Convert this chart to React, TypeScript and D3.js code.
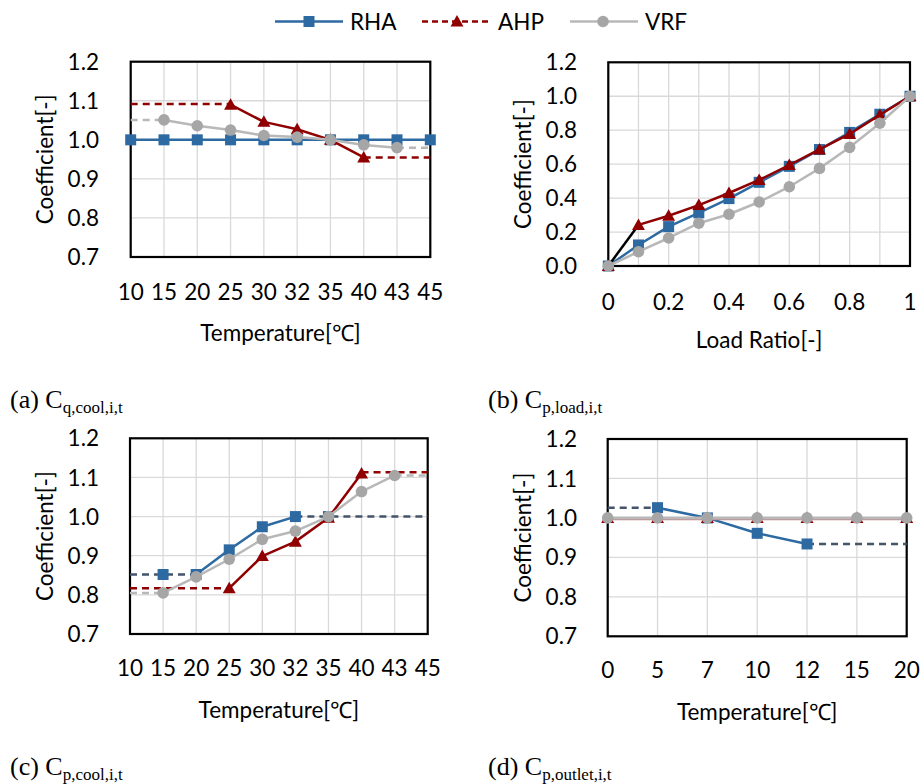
import React from "react";
import * as d3 from "d3";

// ---------- data ----------
const tempCatsAC = ["10", "15", "20", "25", "30", "32", "35", "40", "43", "45"];
const loadCats = [0, 0.1, 0.2, 0.3, 0.4, 0.5, 0.6, 0.7, 0.8, 0.9, 1.0];
const loadTickLabels = [0, 0.2, 0.4, 0.6, 0.8, 1];
const outletCats = ["0", "5", "7", "10", "12", "15", "20"];
const yTicksTemp = [0.7, 0.8, 0.9, 1.0, 1.1, 1.2];
const yTicksLoad = [0, 0.2, 0.4, 0.6, 0.8, 1.0, 1.2];

// (a) Cq,cool
const rhaA = [1, 1, 1, 1, 1, 1, 1, 1, 1, 1];
const ahpA = [null, null, null, 1.09, 1.046, 1.027, 1.0, 0.955, null, null];
const vrfA = [null, 1.051, 1.036, 1.025, 1.011, 1.007, 1.0, 0.987, 0.98, null];
const ahpADashL = [1.092, 1.092, 1.092, 1.092, null, null, null, null, null, null];
const ahpADashR = [null, null, null, null, null, null, null, 0.955, 0.955, 0.955];
const vrfADashL = [1.051, 1.051, null, null, null, null, null, null, null, null];
const vrfADashR = [null, null, null, null, null, null, null, null, 0.98, 0.98];

// (b) Cp,load
const rhaB = [0, 0.124, 0.232, 0.313, 0.397, 0.493, 0.587, 0.686, 0.787, 0.894, 1.0];
const ahpB = [0, 0.242, 0.296, 0.359, 0.43, 0.507, 0.595, 0.687, 0.778, 0.89, 1.0];
const vrfB = [0, 0.084, 0.165, 0.252, 0.305, 0.377, 0.467, 0.575, 0.699, 0.841, 1.0];

// (c) Cp,cool
const rhaC = [null, 0.852, 0.852, 0.915, 0.974, 1.0, 1.0, null, null, null];
const rhaCLine = [null, null, 0.852, 0.915, 0.974, 1.0, null, null, null, null];
const ahpC = [null, null, null, 0.817, 0.899, 0.936, 0.997, 1.11, null, null];
const vrfC = [null, 0.805, 0.846, 0.891, 0.942, 0.963, 1.0, 1.064, 1.105, null];
const rhaCDashL = [0.852, 0.852, 0.852, null, null, null, null, null, null, null];
const rhaCDashR = [null, null, null, null, null, 1.0, 1.0, 1.0, 1.0, 1.0];
const ahpCDashL = [0.817, 0.817, 0.817, 0.817, null, null, null, null, null, null];
const ahpCDashR = [null, null, null, null, null, null, null, 1.113, 1.113, 1.113];
const vrfCDashL = [0.805, 0.805, null, null, null, null, null, null, null, null];
const vrfCDashR = [null, null, null, null, null, null, null, null, 1.105, 1.105];

// (d) Cp,outlet
const rhaD = [null, 1.026, 1.0, 0.961, 0.934, null, null];
const ahpD = [1, 1, 1, 1, 1, 1, 1];
const vrfD = [1, 1, 1, 1, 1, 1, 1];
const rhaDDashL = [1.026, 1.026, null, null, null, null, null];
const rhaDDashR = [null, null, null, null, 0.934, 0.934, 0.934];

// ---------- styles ----------
const BLUE = "#2E6AA2";
const RED = "#900000";
const GRAY = "#A6A6A6";
const GRAY_LINE = "#B8B8B8";
const SLATE = "#44546A";
const FONT = "Lato, 'Open Sans', sans-serif";
const FS = 22.5;

type Marker = "square" | "triangle" | "circle";
type Vals = (number | null)[];

function MarkerShape({ type, x, y, color }: { type: Marker; x: number; y: number; color: string }) {
  if (type === "square") return <rect x={x - 5.5} y={y - 5.5} width={11} height={11} fill={color} />;
  if (type === "circle") return <circle cx={x} cy={y} r={5.8} fill={color} />;
  return <path d={`M${x},${y - 6.5}L${x + 6.5},${y + 5}L${x - 6.5},${y + 5}Z`} fill={color} />;
}

interface LineDef {
  vals: Vals;
  color: string;
  dash?: string;
  width?: number;
}
interface MarkDef {
  vals: Vals;
  color: string;
  type: Marker;
}

interface PanelProps {
  left: number;
  right: number;
  top: number;
  bottom: number;
  xs: (i: number) => number;
  n: number;
  xLabels: { text: string; i: number }[];
  yDomain: [number, number];
  yTicks: number[];
  yFormat: (v: number) => string;
  xTitle: string;
  xTitleY: number;
  xLabelY: number;
  yTitleX: number;
  yLabelRight: number;
  layers: (LineDef | MarkDef)[];
}

function Panel(p: PanelProps) {
  const y = d3.scaleLinear().domain(p.yDomain).range([p.bottom, p.top]);
  const items: JSX.Element[] = [];
  p.layers.forEach((L, li) => {
    if ("type" in L) {
      L.vals.forEach((v, i) => {
        if (v == null) return;
        items.push(<MarkerShape key={`m${li}-${i}`} type={L.type} x={p.xs(i)} y={y(v)} color={L.color} />);
      });
    } else {
      const gen = d3
        .line<number | null>()
        .defined((v) => v != null)
        .x((_, i) => p.xs(i))
        .y((v) => y(v as number));
      items.push(
        <path
          key={`l${li}`}
          d={gen(L.vals) || ""}
          fill="none"
          stroke={L.color}
          strokeWidth={L.width ?? 2.5}
          strokeDasharray={L.dash}
          strokeLinejoin="round"
        />
      );
    }
  });
  const cx = (p.left + p.right) / 2;
  const cy = (p.top + p.bottom) / 2;
  return (
    <g fontFamily={FONT} fill="#000">
      {d3.range(p.n).map((i) => (
        <line key={`vg${i}`} x1={p.xs(i)} x2={p.xs(i)} y1={p.top} y2={p.bottom} stroke="#D9D9D9" strokeWidth={1.3} />
      ))}
      {p.yTicks.map((t) => (
        <line key={`hg${t}`} x1={p.left} x2={p.right} y1={y(t)} y2={y(t)} stroke="#D9D9D9" strokeWidth={1.3} />
      ))}
      <rect x={p.left} y={p.top} width={p.right - p.left} height={p.bottom - p.top} fill="none" stroke="#000" strokeWidth={2.2} />
      {items}
      {p.yTicks.map((t) => (
        <text key={`yl${t}`} x={p.yLabelRight} y={y(t)} dy="0.36em" textAnchor="end" fontSize={FS}>
          {p.yFormat(t)}
        </text>
      ))}
      {p.xLabels.map((l) => (
        <text key={`xl${l.i}`} x={p.xs(l.i)} y={p.xLabelY} textAnchor="middle" fontSize={FS}>
          {l.text}
        </text>
      ))}
      <text x={cx} y={p.xTitleY} textAnchor="middle" fontSize={FS}>
        {p.xTitle}
      </text>
      <text
        transform={`translate(${p.yTitleX},${cy}) rotate(-90)`}
        textAnchor="middle"
        fontSize={FS}
      >
        Coefficient[-]
      </text>
    </g>
  );
}

function Caption({ x, y, letter, sub }: { x: number; y: number; letter: string; sub: string }) {
  return (
    <text x={x} y={y} fontFamily="'Liberation Serif', 'Times New Roman', serif" fontSize={26} fill="#000">
      {`(${letter}) C`}
      <tspan fontSize={17} dy={5}>
        {sub}
      </tspan>
    </text>
  );
}

export default function App() {
  const fmt1 = d3.format(".1f");

  const xa = d3.scalePoint<number>().domain(d3.range(tempCatsAC.length)).range([130.7, 430.3]);
  const xb = d3.scaleLinear().domain([0, 1]).range([608.3, 910]);
  const xc = d3.scalePoint<number>().domain(d3.range(tempCatsAC.length)).range([130, 427.7]);
  const xd = d3.scalePoint<number>().domain(d3.range(outletCats.length)).range([607.7, 906.7]);

  const dash = "7,5";

  return (
    <div style={{ position: "absolute", left: 0, top: 0 }}>
      <svg width={921} height={784} style={{ display: "block", background: "#fff" }}>
        {/* legend */}
        <g fontFamily={FONT} fontSize={FS}>
          <line x1={275} x2={343} y1={21.5} y2={21.5} stroke={BLUE} strokeWidth={2.5} />
          <MarkerShape type="square" x={309} y={21.5} color={BLUE} />
          <text x={350} y={21.5} dy="0.36em">RHA</text>
          <line x1={422} x2={492} y1={21.5} y2={21.5} stroke={RED} strokeWidth={2.5} strokeDasharray="6,4" />
          <MarkerShape type="triangle" x={457} y={21.5} color={RED} />
          <text x={498} y={21.5} dy="0.36em">AHP</text>
          <line x1={570} x2={638} y1={21.5} y2={21.5} stroke={GRAY_LINE} strokeWidth={2.5} />
          <MarkerShape type="circle" x={603} y={21.5} color={GRAY} />
          <text x={645} y={21.5} dy="0.36em">VRF</text>
        </g>

        <Panel
          left={130.7}
          right={430.3}
          top={61.7}
          bottom={257}
          xs={(i) => xa(i) as number}
          n={tempCatsAC.length}
          xLabels={tempCatsAC.map((t, i) => ({ text: t, i }))}
          yDomain={[0.7, 1.2]}
          yTicks={yTicksTemp}
          yFormat={fmt1}
          xTitle="Temperature[℃]"
          xTitleY={341}
          xLabelY={299.5}
          yTitleX={53}
          yLabelRight={99}
          layers={[
            { vals: rhaA, color: BLUE },
            { vals: rhaA, color: BLUE, type: "square" },
            { vals: ahpADashL, color: RED, dash },
            { vals: ahpADashR, color: RED, dash },
            { vals: ahpA, color: RED },
            { vals: ahpA, color: RED, type: "triangle" },
            { vals: vrfADashL, color: GRAY_LINE, dash },
            { vals: vrfADashR, color: GRAY_LINE, dash },
            { vals: vrfA, color: GRAY_LINE },
            { vals: vrfA, color: GRAY, type: "circle" },
          ]}
        />

        <Panel
          left={608.3}
          right={910}
          top={62.3}
          bottom={266}
          xs={(i) => xb(loadCats[i])}
          n={loadCats.length}
          xLabels={loadTickLabels.map((t) => ({ text: String(t), i: loadCats.indexOf(t) }))}
          yDomain={[0, 1.2]}
          yTicks={yTicksLoad}
          yFormat={fmt1}
          xTitle="Load Ratio[-]"
          xTitleY={348}
          xLabelY={309.5}
          yTitleX={531}
          yLabelRight={577}
          layers={[
            { vals: rhaB, color: BLUE },
            { vals: rhaB, color: BLUE, type: "square" },
            { vals: ahpB.map((v, i) => (i < 2 ? v : null)), color: "#000" },
            { vals: ahpB.map((v, i) => (i >= 1 ? v : null)), color: RED },
            { vals: ahpB, color: RED, type: "triangle" },
            { vals: vrfB, color: GRAY_LINE },
            { vals: vrfB, color: GRAY, type: "circle" },
          ]}
        />

        <Panel
          left={130}
          right={427.7}
          top={438.3}
          bottom={634}
          xs={(i) => xc(i) as number}
          n={tempCatsAC.length}
          xLabels={tempCatsAC.map((t, i) => ({ text: t, i }))}
          yDomain={[0.7, 1.2]}
          yTicks={yTicksTemp}
          yFormat={fmt1}
          xTitle="Temperature[℃]"
          xTitleY={718}
          xLabelY={676}
          yTitleX={53}
          yLabelRight={99}
          layers={[
            { vals: rhaCLine, color: BLUE },
            { vals: rhaCDashL, color: SLATE, dash },
            { vals: rhaCDashR, color: SLATE, dash },
            { vals: rhaC, color: BLUE, type: "square" },
            { vals: ahpCDashL, color: RED, dash },
            { vals: ahpCDashR, color: RED, dash },
            { vals: ahpC, color: RED },
            { vals: ahpC, color: RED, type: "triangle" },
            { vals: vrfCDashL, color: GRAY_LINE, dash },
            { vals: vrfCDashR, color: GRAY_LINE, dash },
            { vals: vrfC, color: GRAY_LINE },
            { vals: vrfC, color: GRAY, type: "circle" },
          ]}
        />

        <Panel
          left={607.7}
          right={906.7}
          top={439}
          bottom={636.3}
          xs={(i) => xd(i) as number}
          n={outletCats.length}
          xLabels={outletCats.map((t, i) => ({ text: t, i }))}
          yDomain={[0.7, 1.2]}
          yTicks={yTicksTemp}
          yFormat={fmt1}
          xTitle="Temperature[℃]"
          xTitleY={720}
          xLabelY={678}
          yTitleX={531}
          yLabelRight={577}
          layers={[
            { vals: rhaDDashL, color: SLATE, dash },
            { vals: rhaDDashR, color: SLATE, dash },
            { vals: rhaD, color: BLUE },
            { vals: rhaD, color: BLUE, type: "square" },
            { vals: ahpD.map((v) => v - 0.002), color: "#C08080", width: 3 },
            { vals: ahpD, color: RED, type: "triangle" },
            { vals: vrfD, color: GRAY_LINE, width: 3 },
            { vals: vrfD, color: GRAY, type: "circle" },
          ]}
        />

        <Caption x={10} y={408} letter="a" sub="q,cool,i,t" />
        <Caption x={488} y={408} letter="b" sub="p,load,i,t" />
        <Caption x={10} y={775} letter="c" sub="p,cool,i,t" />
        <Caption x={488} y={775} letter="d" sub="p,outlet,i,t" />
      </svg>
    </div>
  );
}
